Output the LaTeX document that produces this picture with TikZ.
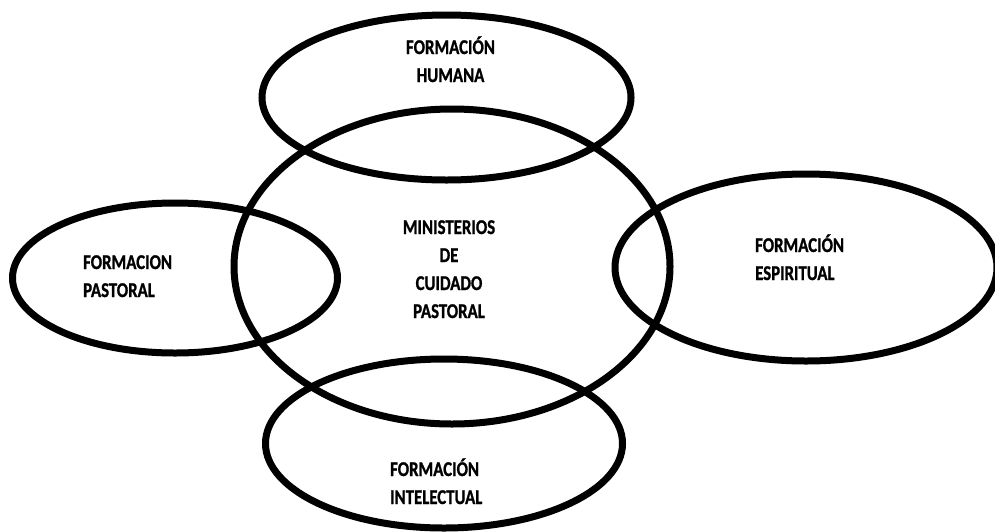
\documentclass[tikz,border=0pt]{standalone}
\usepackage{fontspec}
\setmainfont{Carlito}[BoldFont={Carlito Bold}, BoldFeatures={FakeBold=1.2}]
\tikzset{
   ring/.style={draw=black, line width=7pt},
   txt/.style={font=\bfseries\fontsize{21}{28}\selectfont, inner sep=0pt, xscale=0.8},
    }
\begin{document}
\begin{tikzpicture}[x=1pt,y=-1pt]
            \useasboundingbox (0,0) rectangle (995,531);
            \coordinate (humana) at (446.5,97.5);
            \coordinate (ministerios) at (452,266.5);
            \coordinate (pastoral) at (175,278);
            \coordinate (espiritual) at (806,267.5);
            \coordinate (intelectual) at (444,443.5);
            \draw[ring] (humana) ellipse [x radius=184.5, y radius=82.5];
            \draw[ring] (ministerios) ellipse [x radius=218, y radius=157.5];
            \draw[ring] (pastoral) ellipse [x radius=162.5, y radius=75];
            \draw[ring] (espiritual) ellipse [x radius=191, y radius=93.5];
            \draw[ring] (intelectual) ellipse [x radius=178.5, y radius=84.5];
            % base anchor sits on the last line
            \node[txt, anchor=base, align=center] (thumana) at (450.5,82) {FORMACIÓN\\HUMANA};
            \node[txt, anchor=base, align=center] (tministerios) at (449,318) {MINISTERIOS\\DE\\CUIDADO\\PASTORAL};
            \node[txt, anchor=base west, align=left] (tpastoral) at (83,297) {FORMACION\\PASTORAL};
            \node[txt, anchor=base west, align=left] (tespiritual) at (755,280) {FORMACIÓN\\ESPIRITUAL};
            \node[txt, anchor=base west, align=left] (tintelectual) at (390,504) {FORMACIÓN\\INTELECTUAL};
        \end{tikzpicture}
\end{document}
